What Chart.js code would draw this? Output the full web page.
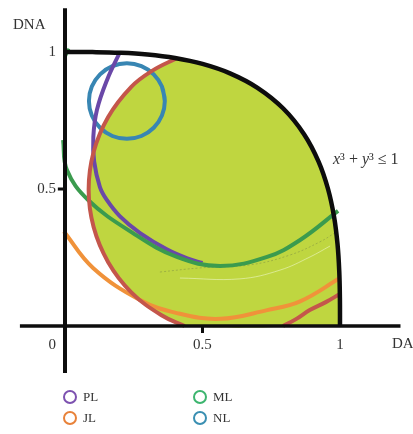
<!DOCTYPE html>
<html lang="en">
<head>
<meta charset="UTF-8">
<title>DA / DNA</title>
<script src="https://cdn.jsdelivr.net/npm/chart.js"></script>
<style>
  body {
    margin: 0;
    background: #fff;
    font-family: 'Liberation Serif', 'DejaVu Serif', serif;
  }
  .wrap {
    position: relative;
    width: 413px;
    height: 434px;
  }
  .key {
    position: absolute;
    font-size: 13px;
    color: #333;
    line-height: 14px;
    white-space: nowrap;
  }
  .key .dot {
    display: inline-block;
    box-sizing: border-box;
    width: 14px;
    height: 14px;
    border: 2px solid;
    border-radius: 50%;
    vertical-align: top;
    margin-right: 6px;
  }
</style>
</head>
<body>
<div class="wrap">
  <canvas id="region"></canvas>
  <div class="key" style="left:63px; top:390px"><span class="dot" style="border-color:#7d52b0"></span>PL</div>
  <div class="key" style="left:193px; top:390px"><span class="dot" style="border-color:#3db56f"></span>ML</div>
  <div class="key" style="left:63px; top:411px"><span class="dot" style="border-color:#e8823a"></span>JL</div>
  <div class="key" style="left:193px; top:411px"><span class="dot" style="border-color:#3a8fb2"></span>NL</div>
</div>

<script>
// boundary x^3 + y^3 = 1
const boundary = [[0, 1], [0.1, 0.9997], [0.2, 0.9973], [0.3, 0.9909], [0.4, 0.9782], [0.5, 0.9565],
  [0.6, 0.9221], [0.7, 0.8693], [0.7937, 0.7937], [0.8693, 0.7], [0.9221, 0.6], [0.9565, 0.5],
  [0.9782, 0.4], [0.9909, 0.3], [0.9973, 0.2], [0.9997, 0.1], [1, 0]];

// red arc, left part and the piece near (1, 0)
const redLeft = [[0.41, 0.979], [0.318, 0.932], [0.241, 0.873], [0.157, 0.763], [0.104, 0.635],
  [0.086, 0.498], [0.104, 0.361], [0.157, 0.233], [0.241, 0.123], [0.351, 0.039], [0.435, 0]];
const redRight = [[0.793, 0], [0.84, 0.025], [0.89, 0.058], [0.95, 0.088], [1.0, 0.117]];

const orange = [[-0.004, 0.345], [0.102, 0.212], [0.273, 0.095], [0.407, 0.047], [0.564, 0.026],
  [0.735, 0.058], [0.855, 0.09], [1.0, 0.175]];

const green = [[-0.007, 0.679], [0.007, 0.569], [0.084, 0.46], [0.247, 0.339], [0.407, 0.252],
  [0.564, 0.219], [0.735, 0.252], [0.855, 0.314], [0.993, 0.42]];
const greenTip = [[0.002, 0.985], [0.014, 1.012]];

const purple = [[0.2, 1.0], [0.153, 0.898], [0.116, 0.788], [0.103, 0.69], [0.106, 0.6],
  [0.127, 0.507], [0.152, 0.46], [0.2, 0.4], [0.273, 0.339], [0.37, 0.28], [0.45, 0.245], [0.5, 0.23]];

// thin traces under the green arc
const traceA = [[0.345, 0.197], [0.491, 0.212], [0.673, 0.223], [0.818, 0.259], [0.927, 0.307], [0.985, 0.342]];
const traceB = [[0.418, 0.175], [0.636, 0.172], [0.782, 0.204], [0.891, 0.252], [0.964, 0.292]];

const blue = [[0.363, 0.821], [0.3525, 0.8738], [0.3226, 0.9186], [0.2778, 0.9485], [0.225, 0.959],
  [0.1722, 0.9485], [0.1274, 0.9186], [0.0975, 0.8738], [0.087, 0.821], [0.0975, 0.7682],
  [0.1274, 0.7234], [0.1722, 0.6935], [0.225, 0.683], [0.2778, 0.6935], [0.3226, 0.7234],
  [0.3525, 0.7682], [0.363, 0.821], [0.3525, 0.8738]];

// shaded area: inside the boundary, right of the red arc
const shaded = redLeft.concat([[1, 0]], boundary.slice(5).reverse(), [[0.41, 0.976]]);

const xTicks = [0, 0.5, 1];
const yTicks = [0.5, 1];

const pts = a => a.map(([x, y]) => ({ x, y }));

function curve(data, color, width, extra) {
  return Object.assign({
    data: pts(data),
    showLine: true,
    borderColor: color,
    borderWidth: width,
    pointRadius: 0,
    tension: 0.4,
    fill: false
  }, extra || {});
}

const axesPlugin = {
  id: 'axes',
  afterDatasetsDraw(chart) {
    const { ctx, scales: { x, y } } = chart;
    const x0 = x.getPixelForValue(0);
    const y0 = y.getPixelForValue(0);
    ctx.save();
    ctx.strokeStyle = '#0d0d0d';
    ctx.lineCap = 'butt';

    ctx.lineWidth = 4;
    ctx.beginPath();
    ctx.moveTo(x0, y.getPixelForValue(1.16));
    ctx.lineTo(x0, y.getPixelForValue(-0.172));
    ctx.stroke();

    ctx.lineWidth = 3.5;
    ctx.beginPath();
    ctx.moveTo(x.getPixelForValue(-0.164), y0);
    ctx.lineTo(x.getPixelForValue(1.22), y0);
    ctx.stroke();

    // small tick marks
    ctx.lineWidth = 3;
    ctx.beginPath();
    ctx.moveTo(x.getPixelForValue(-0.026), y.getPixelForValue(0.5));
    ctx.lineTo(x0, y.getPixelForValue(0.5));
    ctx.moveTo(x.getPixelForValue(0.5), y0);
    ctx.lineTo(x.getPixelForValue(0.5), y.getPixelForValue(-0.026));
    ctx.stroke();

    ctx.fillStyle = '#333';
    ctx.font = '15px "Liberation Serif", serif';
    ctx.textBaseline = 'middle';

    ctx.textAlign = 'right';
    yTicks.forEach(v => ctx.fillText(String(v), x0 - 9, y.getPixelForValue(v)));
    ctx.fillText('0', x0 - 9, y0 + 19);

    ctx.textAlign = 'center';
    xTicks.slice(1).forEach(v => ctx.fillText(String(v), x.getPixelForValue(v), y0 + 19));

    ctx.textAlign = 'left';
    ctx.fillText('DA', x.getPixelForValue(1) + 52, y0 + 18);
    ctx.fillText('DNA', x0 - 52, y.getPixelForValue(1) - 27);

    // region label
    let px = x.getPixelForValue(1) - 7;
    const py = y.getPixelForValue(0.606);
    const parts = [['x', true], ['\u00b3', false], [' + ', false], ['y', true], ['\u00b3', false], [' \u2264 1', false]];
    parts.forEach(([t, it]) => {
      ctx.font = (it ? 'italic ' : '') + '16px "Liberation Serif", serif';
      ctx.fillText(t, px, py);
      px += ctx.measureText(t).width;
    });
    ctx.restore();
  }
};

new Chart(document.getElementById('region'), {
  type: 'scatter',
  data: {
    datasets: [
      curve(boundary, '#0d0d0d', 4.5),
      curve(redLeft, '#c4564b', 4),
      curve(redRight, '#c4564b', 4),
      curve(orange, '#f0923a', 4),
      curve(green, '#3b9b4e', 4),
      curve(greenTip, '#3b9b4e', 3),
      curve(purple, '#6a48a8', 4),
      curve(traceA, 'rgba(95, 110, 70, 0.35)', 1, { borderDash: [2, 2] }),
      curve(traceB, 'rgba(240, 250, 210, 0.55)', 1),
      curve(blue, '#3886b3', 4),
      curve(shaded, 'rgba(0,0,0,0)', 0, { fill: 'shape', backgroundColor: '#bfd640' })
    ]
  },
  options: {
    responsive: true,
    maintainAspectRatio: false,
    animation: false,
    events: [],
    layout: { padding: 0 },
    scales: {
      x: { type: 'linear', display: false, min: -0.2364, max: 1.2655 },
      y: { type: 'linear', display: false, min: -0.3942, max: 1.1898 }
    },
    plugins: {
      legend: { display: false },
      tooltip: { enabled: false }
    }
  },
  plugins: [axesPlugin]
});
</script>
</body>
</html>
